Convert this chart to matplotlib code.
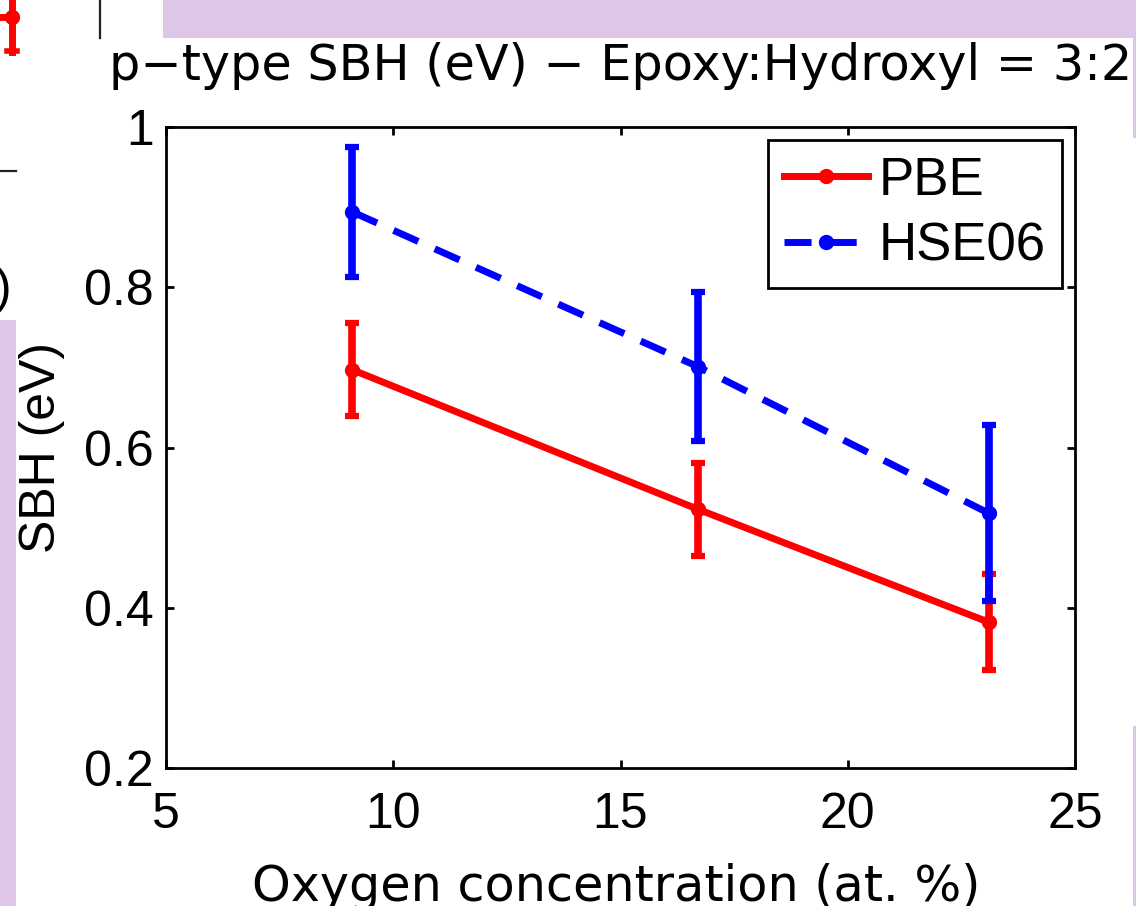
import matplotlib
matplotlib.use('Agg')
import matplotlib.pyplot as plt
from matplotlib.lines import Line2D
from matplotlib.patches import Rectangle

# oxygen concentration (at. %) and p-type SBH (eV) with error bars
oxygen = [9.1, 16.7, 23.1]
pbe_sbh = [0.697, 0.523, 0.382]
pbe_err = [0.058, 0.058, 0.060]
hse_sbh = [0.894, 0.701, 0.518]
hse_err = [0.081, 0.093, 0.110]

xticks = [5, 10, 15, 20, 25]
yticks = [0.2, 0.4, 0.6, 0.8, 1.0]
ytick_labels = ['0.2', '0.4', '0.6', '0.8', '1']

W, H = 1136, 906
LAVENDER = '#dec6e6'
RED = '#ff0000'
BLUE = '#0000ff'
TICK_FONT = 'Liberation Sans'
TEXT_FONT = 'DejaVu Sans'


def fx(px):
    return px / W


def fy(py):
    return 1 - py / H


fig = plt.figure(figsize=(W / 100, H / 100), dpi=100)
fig.patch.set_facecolor('white')

# bits of the neighbouring panels / slide background around the crop
for x0, y0, x1, y1 in [(163, 0, 1136, 38), (0, 320, 16, 906), (1133, 0, 1136, 138), (1133, 726, 1136, 906)]:
    fig.add_artist(Rectangle((fx(x0), fy(y1)), fx(x1 - x0), (y1 - y0) / H, transform=fig.transFigure,
                             facecolor=LAVENDER, edgecolor='none', zorder=0))
fig.add_artist(Line2D([fx(100), fx(100)], [fy(0), fy(38)], color='#222222', lw=1.6, transform=fig.transFigure))
fig.add_artist(Line2D([fx(0), fx(16)], [fy(171), fy(171)], color='#222222', lw=1.6, transform=fig.transFigure))
fig.add_artist(Line2D([fx(12), fx(12)], [fy(0), fy(52)], color=RED, lw=5, transform=fig.transFigure))
fig.add_artist(Line2D([fx(0), fx(12)], [fy(17), fy(17)], color=RED, lw=5, transform=fig.transFigure))
fig.add_artist(Line2D([fx(12)], [fy(17)], color=RED, marker='o', ms=10, transform=fig.transFigure))
fig.add_artist(Line2D([fx(7), fx(17)], [fy(51), fy(51)], color=RED, lw=4, transform=fig.transFigure))
fig.text(fx(3), fy(290), ')', fontsize=36, family=TICK_FONT, ha='center', va='center')

ax = fig.add_axes([fx(166), fy(768), fx(1075) - fx(166), fy(127) - fy(768)])

ax.errorbar(oxygen, pbe_sbh, yerr=pbe_err, fmt='none', ecolor=RED, elinewidth=5.5, capsize=5, capthick=4.5, zorder=2)
ax.plot(oxygen, pbe_sbh, color=RED, lw=5, marker='o', ms=10, label='PBE', zorder=3)
ax.errorbar(oxygen, hse_sbh, yerr=hse_err, fmt='none', ecolor=BLUE, elinewidth=5.5, capsize=5, capthick=4.5, zorder=4)
ax.plot(oxygen, hse_sbh, color=BLUE, lw=5, ls=(0, (3.9, 2.6)), marker='o', ms=10, label='HSE06', zorder=5)

ax.set_xlim(5, 25)
ax.set_ylim(0.2, 1.0)
ax.set_xticks(xticks)
ax.set_xticklabels([str(t) for t in xticks])
ax.set_yticks(yticks)
ax.set_yticklabels(ytick_labels)
ax.tick_params(direction='in', length=6, width=2, top=True, right=True, labelsize=36)
ax.tick_params(axis='x', pad=17)
ax.tick_params(axis='y', pad=9)
for lab in ax.get_xticklabels() + ax.get_yticklabels():
    lab.set_family(TICK_FONT)
for sp in ax.spines.values():
    sp.set_linewidth(2)

ax.set_title('p\u2212type SBH (eV) \u2212 Epoxy:Hydroxyl = 3:2', fontsize=35.5, family=TEXT_FONT, pad=34)
ax.set_xlabel('Oxygen concentration (at. %)', fontsize=35.5, family=TEXT_FONT, va='baseline')
ax.xaxis.set_label_coords((616 - 166) / 909, (768 - 901) / 641)
ax.set_ylabel('SBH (eV)', fontsize=36, family=TICK_FONT, va='center')
ax.yaxis.set_label_coords((42 - 166) / 909, 0.5)

leg = ax.legend(loc='upper right', bbox_to_anchor=((1062 - 166) / 909, (768 - 140) / 641), borderaxespad=0,
                prop={'family': TICK_FONT, 'size': 38}, fancybox=False, framealpha=1, handlelength=1.6,
                handletextpad=0.2, labelspacing=0.3, borderpad=0.3, numpoints=1)
leg.get_frame().set_edgecolor('black')
leg.get_frame().set_linewidth(2)

fig.savefig('out.png', dpi=100)
